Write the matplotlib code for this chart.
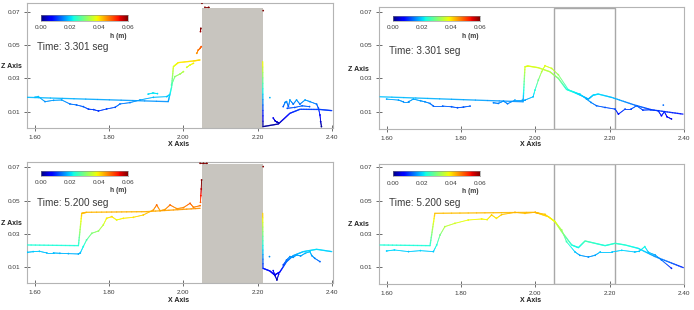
import numpy as np
import matplotlib
matplotlib.use("Agg")
import matplotlib.pyplot as plt
from matplotlib.collections import LineCollection
from matplotlib.patches import Rectangle
import warnings
warnings.filterwarnings("ignore")

plt.rcParams['font.family'] = ['Liberation Sans Narrow', 'Liberation Sans', 'DejaVu Sans']

# ---------------- data ----------------
times = ["Time: 3.301 seg", "Time: 3.301 seg", "Time: 5.200 seg", "Time: 5.200 seg"]
xticks = [1.60, 1.80, 2.00, 2.20, 2.40]
xtick_labels = ["1.60", "1.80", "2.00", "2.20", "2.40"]
yticks = [0.01, 0.03, 0.05, 0.07]
ytick_labels = ["0.01", "0.03", "0.05", "0.07"]
cbar_ticks = ["0.00", "0.02", "0.04", "0.06"]
obstacle_x = [2.050, 2.215]
obstacle_top = 0.072
nan = np.nan

# Panel A: t=3.301, with obstacle
lineA_x = [1.578, 1.959, 1.968, 1.973, 1.986, 2.027, 2.045, nan,
           2.2137, 2.2145, 2.256, 2.287, 2.314, 2.368, 2.400]
lineA_y = [0.0186, 0.0160, 0.0246, 0.0370, 0.0394, 0.0404, 0.0410, nan,
           0.0400, 0.0010, 0.0026, 0.0090, 0.0114, 0.0113, 0.0106]
dotsA_x = [1.600, 1.609, 1.627, 1.650, 1.672, 1.694, 1.712, 1.730, 1.744, 1.758, 1.771,
           1.793, 1.816, 1.829, 1.856, 1.883, 1.919, 1.955, 1.962, nan,
           1.968, 1.977, 1.991, 2.000, nan, 1.905, 1.918, 1.930, nan,
           2.009, 2.018, 2.027, nan, 2.036, 2.040, 2.045, 2.048, nan,
           2.046, 2.047, nan, 2.050, nan, 2.058, 2.068, nan, 2.215, nan,
           2.233, nan, 2.242, 2.247, 2.252, 2.256, nan,
           2.269, 2.274, 2.278, 2.283, 2.287, 2.296, 2.305, 2.314, 2.328, 2.341,
           2.359, 2.364, 2.368, 2.370, 2.372, nan, 2.280, 2.300, 2.320, 2.340]
dotsA_y = [0.0186, 0.0190, 0.0160, 0.0168, 0.0170, 0.0146, 0.0140, 0.0130, 0.0115, 0.0112, 0.0104,
           0.0116, 0.0126, 0.0146, 0.0154, 0.0170, 0.0186, 0.0190, 0.0200, nan,
           0.0260, 0.0310, 0.0326, 0.0340, nan, 0.0205, 0.0212, 0.0208, nan,
           0.0366, 0.0380, 0.0390, nan, 0.0450, 0.0470, 0.0480, 0.0490, nan,
           0.0580, 0.0600, nan, 0.0750, nan, 0.0726, 0.0726, nan, 0.0706, nan,
           0.0184, nan, 0.0062, 0.0045, 0.0038, 0.0033, nan,
           0.0130, 0.0155, 0.0160, 0.0130, 0.0170, 0.0145, 0.0170, 0.0145, 0.0170, 0.0160,
           0.0145, 0.0120, 0.0080, 0.0040, 0.0010, nan, 0.0120, 0.0125, 0.0135, 0.0130]

# Panel B: t=3.301, no obstacle
lineB_x = [1.581, 1.967, 1.972, 1.981, 2.008, 2.039, 2.062, 2.084, 2.107, 2.125, 2.143,
           2.156, 2.170, 2.206, 2.268, 2.313, 2.398]
lineB_y = [0.0190, 0.0160, 0.0370, 0.0374, 0.0364, 0.0340, 0.0300, 0.0234, 0.0214, 0.0196, 0.0176,
           0.0200, 0.0206, 0.0186, 0.0140, 0.0112, 0.0086]
dotsB_x = [1.599, 1.631, 1.644, 1.658, 1.671, 1.690, 1.702, 1.716, 1.725, 1.750, 1.774, 1.790,
           1.806, 1.824, nan, 1.887, 1.900, 1.914, 1.925, 1.945, 1.965, 1.972, 1.994, 1.999,
           2.008, 2.017, 2.026, 2.044, 2.062, 2.089, 2.120, 2.138, 2.150, 2.165, 2.188, 2.215,
           2.224, 2.242, 2.258, 2.273, 2.290, 2.310, 2.331, 2.340, 2.348, 2.355, 2.367, nan, 2.345]
dotsB_y = [0.0176, 0.0170, 0.0160, 0.0160, 0.0176, 0.0166, 0.0160, 0.0150, 0.0134, 0.0134, 0.0130, 0.0124,
           0.0128, 0.0134, nan, 0.0154, 0.0150, 0.0164, 0.0148, 0.0170, 0.0170, 0.0170, 0.0190, 0.0230,
           0.0290, 0.0340, 0.0376, 0.0360, 0.0322, 0.0232, 0.0206, 0.0176, 0.0156, 0.0136, 0.0126, 0.0116,
           0.0086, 0.0116, 0.0116, 0.0136, 0.0110, 0.0112, 0.0106, 0.0076, 0.0100, 0.0070, 0.0057, nan, 0.0140]

# Panel C: t=5.200, with obstacle
lineC_x = [1.578, 1.717, 1.726, 1.739, 1.901, 2.045, nan,
           2.2137, 2.2145, 2.233, 2.246, 2.260, 2.278, 2.296, 2.323, 2.359, 2.400]
lineC_y = [0.0234, 0.0230, 0.0424, 0.0430, 0.0434, 0.0454, nan,
           0.0424, 0.0094, 0.0078, 0.0054, 0.0072, 0.0134, 0.0170, 0.0194, 0.0208, 0.0194]
dotsC_x = [1.580, 1.595, 1.612, 1.632, 1.650, 1.667, 1.690, 1.717, 1.722, 1.730, 1.739, 1.753,
           1.771, 1.784, 1.793, 1.807, 1.820, 1.838, 1.865, 1.892, 1.919, 1.928, 1.937, 1.950,
           1.964, 1.982, 2.000, 2.018, 2.027, 2.045, nan, 2.046, 2.047, 2.048, 2.049, nan,
           2.045, 2.054, 2.063, nan, 2.215, nan, 2.232, nan, 2.242, 2.247, 2.252, 2.257, nan,
           2.269, 2.278, 2.287, 2.296, 2.305, 2.316, 2.328, 2.341, 2.346, 2.354, 2.368]
dotsC_y = [0.0190, 0.0194, 0.0196, 0.0186, 0.0186, 0.0184, 0.0182, 0.0180, 0.0186, 0.0224, 0.0264, 0.0304,
           0.0318, 0.0354, 0.0394, 0.0404, 0.0384, 0.0394, 0.0400, 0.0414, 0.0444, 0.0474, 0.0440, 0.0446,
           0.0474, 0.0452, 0.0458, 0.0484, 0.0460, 0.0470, nan, 0.0490, 0.0530, 0.0570, 0.0624, nan,
           0.0724, 0.0724, 0.0724, nan, 0.0704, nan, 0.0164, nan, 0.0080, 0.0050, 0.0024, 0.0060, nan,
           0.0114, 0.0144, 0.0164, 0.0160, 0.0174, 0.0168, 0.0184, 0.0194, 0.0170, 0.0154, 0.0134]

# Panel D: t=5.200, no obstacle
lineD_x = [1.581, 1.716, 1.729, 1.999, 2.008, 2.035, 2.053, 2.071, 2.098, 2.116, 2.134,
           2.161, 2.188, 2.215, 2.242, 2.277, 2.323, 2.399]
lineD_y = [0.0234, 0.0230, 0.0424, 0.0430, 0.0424, 0.0404, 0.0374, 0.0314, 0.0234, 0.0218, 0.0258,
           0.0244, 0.0230, 0.0244, 0.0234, 0.0214, 0.0164, 0.0098]
dotsD_x = [1.599, 1.620, 1.658, 1.690, 1.725, 1.734, 1.743, 1.756, 1.783, 1.819, 1.855, 1.870,
           1.882, 1.895, 1.909, 1.945, 1.972, 2.000, 2.026, 2.053, 2.071, 2.084, 2.107, 2.120,
           2.143, 2.161, 2.175, 2.207, 2.233, 2.268, 2.280, 2.295, 2.305, 2.323, 2.340, 2.367]
dotsD_y = [0.0198, 0.0204, 0.0194, 0.0200, 0.0194, 0.0234, 0.0294, 0.0344, 0.0364, 0.0384, 0.0390, 0.0386,
           0.0414, 0.0394, 0.0416, 0.0430, 0.0424, 0.0430, 0.0418, 0.0374, 0.0324, 0.0254, 0.0192, 0.0172,
           0.0162, 0.0172, 0.0192, 0.0192, 0.0202, 0.0192, 0.0196, 0.0224, 0.0190, 0.0174, 0.0144, 0.0094]

series = [(lineA_x, lineA_y, dotsA_x, dotsA_y, True),
          (lineB_x, lineB_y, dotsB_x, dotsB_y, False),
          (lineC_x, lineC_y, dotsC_x, dotsC_y, True),
          (lineD_x, lineD_y, dotsD_x, dotsD_y, False)]

# ---------------- layout (pixels) ----------------
W, H = 694, 310
layout = [
    dict(box=(27, 3.3, 333.3, 128.3), xlim=(1.5784, 2.404), ylim=(0.0, 0.0750),
         cbar=(41, 15, 127.7, 21), cblab=27.7, hm=(118, 36), time=(36.7, 46.7),
         xl=(178.3, 144), zl=(0.8, 66), zha='left'),
    dict(box=(379.3, 7.3, 683.7, 129.3), xlim=(1.5792, 2.3997), ylim=(-0.0005, 0.0726),
         cbar=(392.7, 15.7, 479.7, 21), cblab=27.7, hm=(470, 36), time=(389.3, 50.7),
         xl=(531, 144), zl=(369, 69.3), zha='right'),
    dict(box=(27, 162.3, 333.3, 283.3), xlim=(1.5784, 2.404), ylim=(0.0004, 0.0730),
         cbar=(41, 170.7, 127.7, 176.3), cblab=182.7, hm=(118, 191), time=(36.7, 202.7),
         xl=(178.3, 300), zl=(0.8, 223.3), zha='left'),
    dict(box=(379.3, 164, 683.7, 284.3), xlim=(1.5792, 2.3997), ylim=(-0.0002, 0.0720),
         cbar=(392.7, 170.7, 479.7, 176.3), cblab=183.3, hm=(470, 191.7), time=(389.3, 203.3),
         xl=(531, 300), zl=(369, 225), zha='right'),
]

cmap = plt.get_cmap('jet')
norm = plt.Normalize(0.0, 0.06)
txt = '#3a3a3a'


def colored_line(ax, xs, ys, lw, nsub=12, alpha=1.0):
    segs, vals = [], []
    xs = np.asarray(xs, float)
    ys = np.asarray(ys, float)
    for i in range(len(xs) - 1):
        if np.isnan(xs[i]) or np.isnan(xs[i + 1]):
            continue
        t = np.linspace(0, 1, nsub + 1)
        px = xs[i] + (xs[i + 1] - xs[i]) * t
        py = ys[i] + (ys[i + 1] - ys[i]) * t
        for k in range(nsub):
            segs.append([(px[k], py[k]), (px[k + 1], py[k + 1])])
            vals.append(0.5 * (py[k] + py[k + 1]))
    lc = LineCollection(segs, cmap=cmap, norm=norm, linewidths=lw, capstyle='round',
                        joinstyle='round', zorder=3, alpha=alpha)
    lc.set_array(np.array(vals))
    ax.add_collection(lc)


fig = plt.figure(figsize=(W / 100, H / 100), dpi=100)
fig.patch.set_facecolor('white')

for (lx, ly, dx, dy, obstacle), L, ttl in zip(series, layout, times):
    x0, y0, x1, y1 = L['box']
    ax = fig.add_axes([x0 / W, 1 - y1 / H, (x1 - x0) / W, (y1 - y0) / H])
    ax.set_xlim(*L['xlim'])
    ax.set_ylim(*L['ylim'])
    for s in ax.spines.values():
        s.set_color('#b4b4b4')
        s.set_linewidth(0.8)
    ax.set_xticks(xticks)
    ax.set_xticklabels(xtick_labels)
    ax.set_yticks(yticks)
    ax.set_yticklabels(ytick_labels)
    ax.tick_params(direction='inout', length=5, width=0.6, color='#555555',
                   labelsize=4.6, labelcolor=txt, pad=2.5)

    if obstacle:
        ax.add_patch(Rectangle((obstacle_x[0], L['ylim'][0]), obstacle_x[1] - obstacle_x[0],
                               obstacle_top - L['ylim'][0], facecolor='#c8c5bf',
                               edgecolor='none', zorder=2))
    else:
        ax.add_patch(Rectangle((obstacle_x[0], L['ylim'][0]), obstacle_x[1] - obstacle_x[0],
                               obstacle_top - L['ylim'][0], facecolor='none',
                               edgecolor='#a8a8a8', linewidth=1.0, zorder=2))

    colored_line(ax, lx, ly, 0.95, alpha=0.9)
    colored_line(ax, dx, dy, 0.65, alpha=0.9)
    dxa = np.asarray(dx, float)
    dya = np.asarray(dy, float)
    m = ~np.isnan(dxa)
    ax.scatter(dxa[m], dya[m], c=dya[m], cmap=cmap, norm=norm, s=1.6, linewidths=0, zorder=4)

    # colorbar
    cx0, cy0, cx1, cy1 = L['cbar']
    cax = fig.add_axes([cx0 / W, 1 - cy1 / H, (cx1 - cx0) / W, (cy1 - cy0) / H])
    cax.imshow(np.linspace(0, 1, 256)[None, :], cmap=cmap, aspect='auto',
               extent=(0, 1, 0, 1))
    cax.set_xticks([])
    cax.set_yticks([])
    for s in cax.spines.values():
        s.set_color('#888888')
        s.set_linewidth(0.4)
    for i, lab in enumerate(cbar_ticks):
        xp = cx0 + (cx1 - cx0) * i / 3
        fig.text(xp / W, 1 - L['cblab'] / H, lab, ha='center', va='center',
                 fontsize=4.6, color=txt)
    fig.text(L['hm'][0] / W, 1 - L['hm'][1] / H, 'h (m)', ha='center', va='center',
             fontsize=4.8, fontweight='bold', color=txt)
    fig.text(L['time'][0] / W, 1 - L['time'][1] / H, ttl, ha='left', va='center',
             fontsize=7.2, color=txt)
    fig.text(L['xl'][0] / W, 1 - L['xl'][1] / H, 'X Axis', ha='center', va='center',
             fontsize=5, fontweight='bold', color='#222222')
    fig.text(L['zl'][0] / W, 1 - L['zl'][1] / H, 'Z Axis', ha=L['zha'], va='center',
             fontsize=5, fontweight='bold', color='#222222')

fig.savefig('out.png', dpi=100, facecolor='white')
